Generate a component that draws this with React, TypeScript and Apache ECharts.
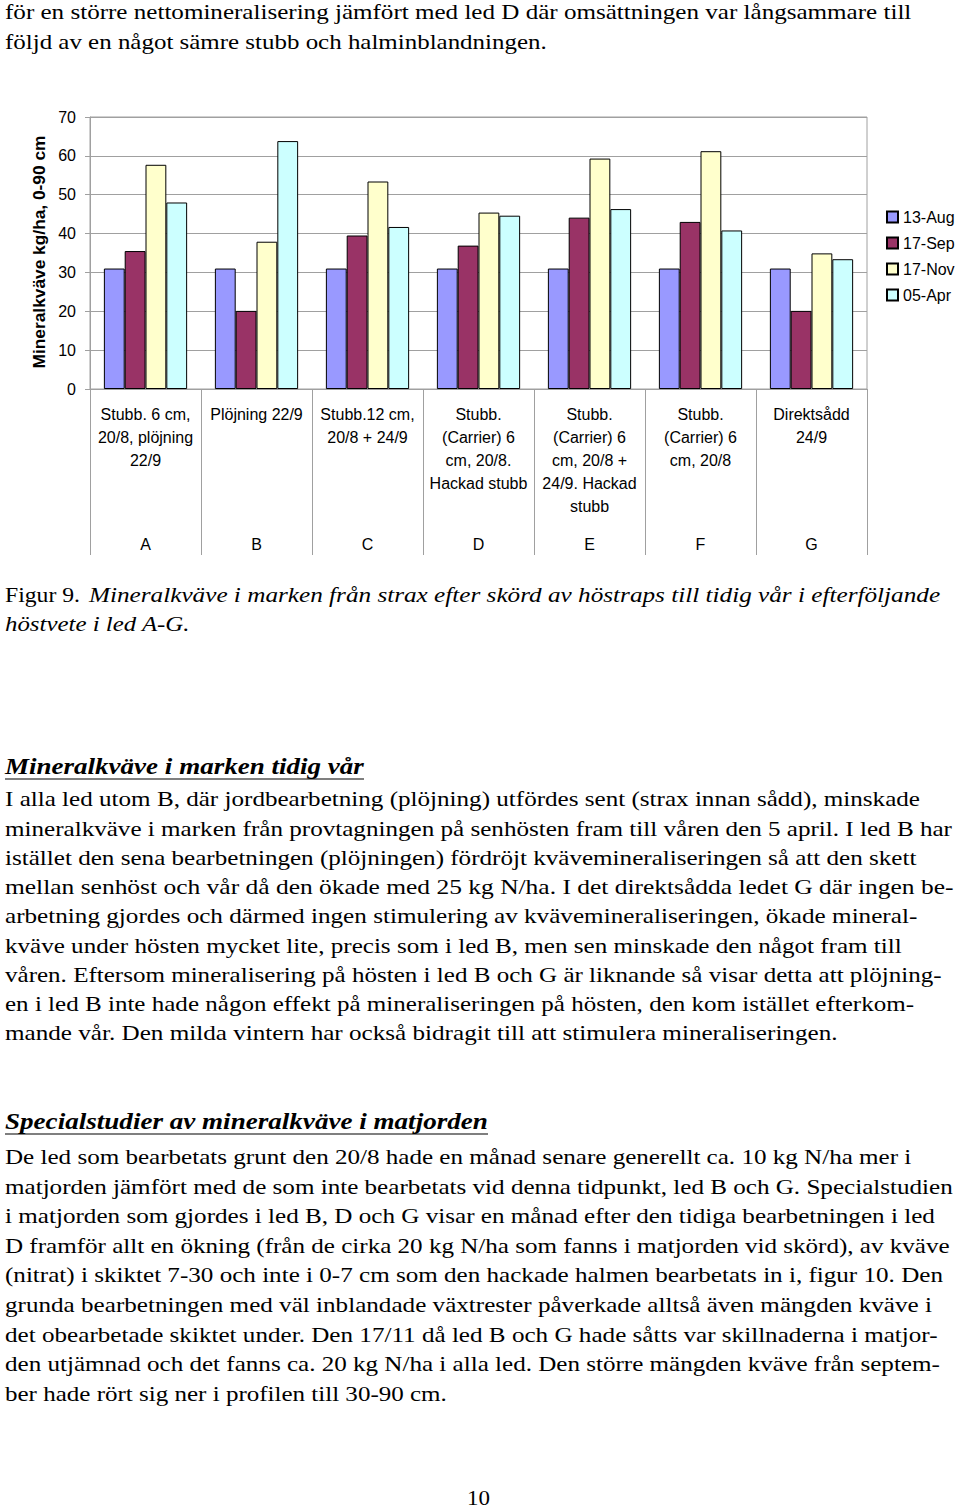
import React, { useEffect, useRef } from "react";
import * as echarts from "echarts";

// ---- chart data ----
const categories = [
  "Stubb. 6 cm,\n20/8, plöjning\n22/9",
  "Plöjning 22/9",
  "Stubb.12 cm,\n20/8 + 24/9",
  "Stubb.\n(Carrier) 6\ncm, 20/8.\nHackad stubb",
  "Stubb.\n(Carrier) 6\ncm, 20/8 +\n24/9. Hackad\nstubb",
  "Stubb.\n(Carrier) 6\ncm, 20/8",
  "Direktsådd\n24/9",
];
const letters = ["A", "B", "C", "D", "E", "F", "G"];
const seriesNames = ["13-Aug", "17-Sep", "17-Nov", "05-Apr"];
const aug13 = [31, 31, 31, 31, 31, 31, 31];
const sep17 = [35.5, 20.1, 39.5, 36.9, 44.1, 43.0, 20.1];
const nov17 = [57.7, 37.9, 53.4, 45.4, 59.3, 61.2, 34.9];
const apr05 = [48.0, 63.8, 41.7, 44.6, 46.3, 40.8, 33.4];
const seriesColors = ["#9999FF", "#993366", "#FFFFCC", "#CCFFFF"];
const yAxisTitle = "Mineralkväve kg/ha, 0-90 cm";

// ---- page text ----
const topLines = [
  "för en större nettomineralisering jämfört med led D där omsättningen var långsammare till",
  "följd av en något sämre stubb och halminblandningen.",
];
const captionLabel = "Figur 9.";
const captionLines = [
  "Mineralkväve i marken från strax efter skörd av höstraps till tidig vår i efterföljande",
  "höstvete i led A-G.",
];
const heading1 = "Mineralkväve i marken tidig vår";
const para1 = [
  "I alla led utom B, där jordbearbetning (plöjning) utfördes sent (strax innan sådd), minskade",
  "mineralkväve i marken från provtagningen på senhösten fram till våren den 5 april. I led B har",
  "istället den sena bearbetningen (plöjningen) fördröjt kvävemineraliseringen så att den skett",
  "mellan senhöst och vår då den ökade med 25 kg N/ha. I det direktsådda ledet G där ingen be-",
  "arbetning gjordes och därmed ingen stimulering av kvävemineraliseringen, ökade mineral-",
  "kväve under hösten mycket lite, precis som i led B, men sen minskade den något fram till",
  "våren. Eftersom mineralisering på hösten i led B och G är liknande så visar detta att plöjning-",
  "en i led B inte hade någon effekt på mineraliseringen på hösten, den kom istället efterkom-",
  "mande vår. Den milda vintern har också bidragit till att stimulera mineraliseringen.",
];
const heading2 = "Specialstudier av mineralkväve i matjorden";
const para2 = [
  "De led som bearbetats grunt den 20/8 hade en månad senare generellt ca. 10 kg N/ha mer i",
  "matjorden jämfört med de som inte bearbetats vid denna tidpunkt, led B och G. Specialstudien",
  "i matjorden som gjordes i led B, D och G visar en månad efter den tidiga bearbetningen i led",
  "D framför allt en ökning (från de cirka 20 kg N/ha som fanns i matjorden vid skörd), av kväve",
  "(nitrat) i skiktet 7-30 och inte i 0-7 cm som den hackade halmen bearbetats in i, figur 10. Den",
  "grunda bearbetningen med väl inblandade växtrester påverkade alltså även mängden kväve i",
  "det obearbetade skiktet under. Den 17/11 då led B och G hade såtts var skillnaderna i matjor-",
  "den utjämnad och det fanns ca. 20 kg N/ha i alla led. Den större mängden kväve från septem-",
  "ber hade rört sig ner i profilen till 30-90 cm.",
];
const pageNumber = "10";

// layout widths (right edges of lines, pixels)
const topRights = [912, 547];
const captionRights = [940, 190];
const para1Rights = [920, 952, 917, 954, 918, 902, 942, 915, 838];
const para2Rights = [912, 953, 935, 950, 943, 932, 938, 940, 447];

const SERIF = "Liberation Serif, Times New Roman, Times, serif";
const SANS = "Arial, Liberation Sans, Helvetica, sans-serif";

let measureCtx: CanvasRenderingContext2D | null = null;
function measure(str: string, font: string) {
  if (!measureCtx) measureCtx = document.createElement("canvas").getContext("2d");
  measureCtx!.font = font;
  return measureCtx!.measureText(str).width;
}

function fitText(
  str: string,
  family: string,
  size: number,
  weight: string,
  fstyle: string,
  x: number,
  y: number,
  right: number
) {
  const font = `${fstyle} ${weight} ${size}px ${family}`;
  const w = measure(str, font);
  return {
    type: "text",
    x,
    y,
    scaleX: w > 0 ? (right - x) / w : 1,
    silent: true,
    style: {
      text: str,
      fontFamily: family,
      fontSize: size,
      fontWeight: weight,
      fontStyle: fstyle,
      fill: "#000",
      align: "left",
      verticalAlign: "middle",
    },
  };
}

export default function App() {
  const ref = useRef<HTMLDivElement>(null);
  useEffect(() => {
    if (!ref.current) return;
    const chart = echarts.init(ref.current, undefined, { renderer: "svg" });
    const graphics: any[] = [];
    const body = (s: string, x: number, y: number, r: number) =>
      fitText(s, SERIF, 22, "normal", "normal", x, y, r);
    const ital = (s: string, x: number, y: number, r: number) =>
      fitText(s, SERIF, 22, "normal", "italic", x, y, r);
    const head = (s: string, x: number, y: number, r: number) =>
      fitText(s, SERIF, 24, "bold", "italic", x, y, r);

    topLines.forEach((l, i) => graphics.push(body(l, 5, 12 + i * 29.2, topRights[i])));
    graphics.push(body(captionLabel, 5, 595, 80));
    graphics.push(ital(captionLines[0], 89, 595, captionRights[0]));
    graphics.push(ital(captionLines[1], 5, 624, captionRights[1]));

    graphics.push(head(heading1, 5, 766, 364));
    graphics.push({ type: "line", silent: true, shape: { x1: 5, y1: 779, x2: 364, y2: 779 }, style: { stroke: "#000", lineWidth: 1.2 } });
    para1.forEach((l, i) => graphics.push(body(l, 5, 799 + i * 29.25, para1Rights[i])));

    graphics.push(head(heading2, 5, 1121, 488));
    graphics.push({ type: "line", silent: true, shape: { x1: 5, y1: 1134, x2: 488, y2: 1134 }, style: { stroke: "#000", lineWidth: 1.2 } });
    para2.forEach((l, i) => graphics.push(body(l, 5, 1156.5 + i * 29.6, para2Rights[i])));

    graphics.push(body(pageNumber, 467, 1498, 490));

    // y-axis title (rotated)
    const tw = measure(yAxisTitle, `bold 17px ${SANS}`);
    graphics.push({
      type: "text",
      x: 39,
      y: 252,
      rotation: Math.PI / 2,
      scaleX: 233 / tw,
      silent: true,
      style: {
        text: yAxisTitle,
        fontFamily: SANS,
        fontSize: 17,
        fontWeight: "bold",
        fill: "#000",
        align: "center",
        verticalAlign: "middle",
      },
    });

    const gray = "#a0a0a0";
    const values = [aug13, sep17, nov17, apr05];
    chart.setOption({
      animation: false,
      backgroundColor: "#fff",
      textStyle: { fontFamily: SANS },
      grid: {
        left: 90,
        top: 117,
        width: 777,
        height: 272,
        show: true,
        borderColor: gray,
        borderWidth: 1,
        containLabel: false,
      },
      legend: {
        orient: "vertical",
        left: 886,
        top: 209,
        padding: 0,
        itemWidth: 11,
        itemHeight: 11,
        itemGap: 10,
        icon: "rect",
        textStyle: { fontSize: 16, color: "#000", fontFamily: SANS },
        data: seriesNames,
      },
      xAxis: [
        {
          type: "category",
          data: categories,
          position: "bottom",
          axisLine: { show: true, lineStyle: { color: gray } },
          axisTick: { show: true, length: 166, interval: 0, lineStyle: { color: gray } },
          axisLabel: {
            interval: 0,
            fontSize: 16,
            color: "#000",
            fontFamily: SANS,
            lineHeight: 23,
            margin: 14,
          },
          splitLine: { show: false },
        },
        {
          type: "category",
          data: letters,
          position: "bottom",
          axisLine: { show: false },
          axisTick: { show: false },
          axisLabel: { interval: 0, fontSize: 16, color: "#000", fontFamily: SANS, margin: 147 },
          splitLine: { show: false },
        },
      ],
      yAxis: {
        type: "value",
        min: 0,
        max: 70,
        interval: 10,
        axisLine: { show: true, lineStyle: { color: gray } },
        axisTick: { show: true, length: 5, lineStyle: { color: gray } },
        axisLabel: { fontSize: 16, color: "#000", fontFamily: SANS, margin: 14 },
        splitLine: { show: true, lineStyle: { color: gray, width: 1 } },
      },
      series: seriesNames.map((name, i) => ({
        name,
        type: "bar",
        xAxisIndex: 0,
        data: values[i],
        barGap: "0%",
        barCategoryGap: "25%",
        itemStyle: { color: seriesColors[i], borderColor: "#000", borderWidth: 1 },
      })),
      graphic: graphics,
    });
    return () => chart.dispose();
  }, []);
  return (
    <div
      ref={ref}
      style={{ position: "absolute", left: 0, top: 0, width: 960, height: 1510, background: "#fff" }}
    />
  );
}
